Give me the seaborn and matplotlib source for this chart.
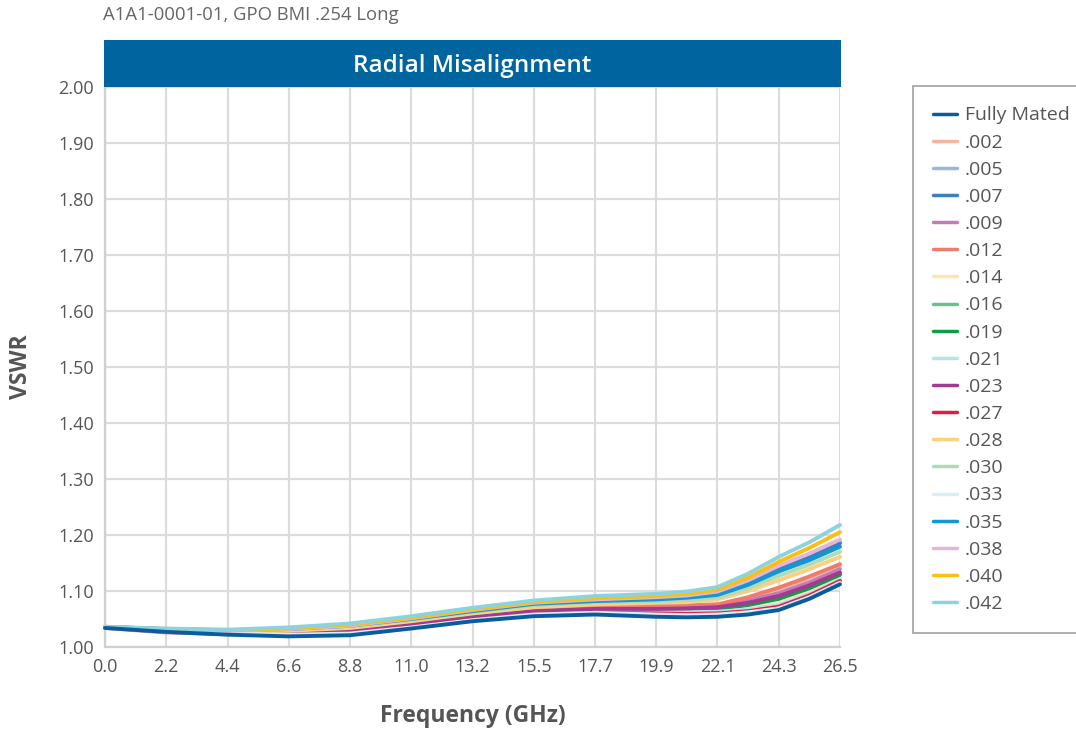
import numpy as np
import pandas as pd
import matplotlib
matplotlib.use("Agg")
import matplotlib.pyplot as plt
from matplotlib.patches import Rectangle
import seaborn as sns

# ---- data ----
tick_freq = [0.0, 2.2083, 4.4167, 6.625, 8.8333, 11.0417, 13.25, 15.4583, 17.6667, 19.875, 22.0833, 24.2917, 26.5]
freq_tick_labels = ["0.0", "2.2", "4.4", "6.6", "8.8", "11.0", "13.2", "15.5", "17.7", "19.9", "22.1", "24.3", "26.5"]
# sample frequencies (ticks plus a few readings between ticks near the upturn)
freq = [0.0, 2.2083, 4.4167, 6.625, 8.8333, 11.0417, 13.25, 15.4583, 17.6667, 19.875,
        20.979, 22.0833, 23.1875, 24.2917, 25.396, 26.5]

series_names = ["Fully Mated", ".002", ".005", ".007", ".009", ".012", ".014", ".016", ".019",
                ".021", ".023", ".027", ".028", ".030", ".033", ".035", ".038", ".040", ".042"]

fully_mated = [1.034, 1.027, 1.022, 1.019, 1.021, 1.033, 1.046, 1.055, 1.058, 1.054, 1.053, 1.054, 1.058, 1.066, 1.086, 1.112]
s002 = [1.035, 1.029, 1.026, 1.026, 1.030, 1.042, 1.056, 1.067, 1.071, 1.073, 1.074, 1.076, 1.087, 1.102, 1.121, 1.144]
s005 = [1.035, 1.031, 1.029, 1.031, 1.037, 1.050, 1.065, 1.078, 1.084, 1.087, 1.090, 1.097, 1.117, 1.142, 1.163, 1.188]
s007 = [1.035, 1.031, 1.029, 1.031, 1.037, 1.050, 1.064, 1.077, 1.083, 1.086, 1.089, 1.095, 1.115, 1.140, 1.160, 1.185]
s009 = [1.034, 1.026, 1.023, 1.023, 1.027, 1.040, 1.054, 1.065, 1.070, 1.071, 1.072, 1.074, 1.083, 1.096, 1.115, 1.139]
s012 = [1.035, 1.029, 1.026, 1.026, 1.030, 1.042, 1.056, 1.067, 1.072, 1.075, 1.075, 1.076, 1.089, 1.106, 1.126, 1.148]
s014 = [1.035, 1.030, 1.026, 1.025, 1.028, 1.039, 1.052, 1.062, 1.065, 1.064, 1.064, 1.065, 1.070, 1.078, 1.098, 1.123]
s016 = [1.036, 1.031, 1.028, 1.028, 1.031, 1.042, 1.054, 1.064, 1.067, 1.068, 1.068, 1.070, 1.077, 1.087, 1.106, 1.130]
s019 = [1.036, 1.031, 1.028, 1.027, 1.029, 1.040, 1.053, 1.063, 1.066, 1.068, 1.067, 1.068, 1.075, 1.086, 1.105, 1.129]
s021 = [1.036, 1.030, 1.026, 1.024, 1.027, 1.038, 1.050, 1.060, 1.063, 1.062, 1.062, 1.063, 1.067, 1.075, 1.095, 1.120]
s023 = [1.035, 1.030, 1.026, 1.025, 1.028, 1.040, 1.053, 1.064, 1.068, 1.068, 1.069, 1.071, 1.079, 1.091, 1.110, 1.133]
s027 = [1.035, 1.029, 1.025, 1.022, 1.024, 1.035, 1.048, 1.058, 1.061, 1.060, 1.059, 1.060, 1.064, 1.072, 1.092, 1.118]
s028 = [1.036, 1.031, 1.028, 1.029, 1.034, 1.046, 1.060, 1.071, 1.076, 1.079, 1.080, 1.085, 1.100, 1.119, 1.139, 1.161]
s030 = [1.036, 1.032, 1.030, 1.032, 1.037, 1.049, 1.063, 1.075, 1.080, 1.082, 1.084, 1.088, 1.105, 1.127, 1.147, 1.170]
s033 = [1.035, 1.028, 1.024, 1.022, 1.024, 1.035, 1.048, 1.058, 1.061, 1.058, 1.057, 1.058, 1.062, 1.069, 1.089, 1.115]
s035 = [1.036, 1.032, 1.030, 1.032, 1.038, 1.050, 1.064, 1.077, 1.082, 1.085, 1.088, 1.093, 1.111, 1.135, 1.155, 1.179]
s038 = [1.035, 1.031, 1.029, 1.032, 1.038, 1.051, 1.066, 1.079, 1.085, 1.089, 1.092, 1.099, 1.119, 1.145, 1.167, 1.192]
s040 = [1.036, 1.032, 1.030, 1.033, 1.040, 1.052, 1.067, 1.080, 1.087, 1.091, 1.095, 1.102, 1.124, 1.152, 1.177, 1.205]
s042 = [1.036, 1.033, 1.031, 1.035, 1.042, 1.055, 1.070, 1.083, 1.091, 1.095, 1.099, 1.107, 1.131, 1.161, 1.187, 1.218]

series_values = [fully_mated, s002, s005, s007, s009, s012, s014, s016, s019,
                 s021, s023, s027, s028, s030, s033, s035, s038, s040, s042]

colors = ["#0b5c9e", "#f7b4a2", "#9cb6d8", "#3d7fc0", "#c47cb6", "#ef7b6e", "#fde5b2", "#6dc08c",
          "#0f9d4b", "#b6e3ea", "#a23b8f", "#e31c42", "#fdd07f", "#afdcb8", "#d9eef2", "#1296d6",
          "#e3b6d7", "#fbbf12", "#8dd3de"]

y_ticks = [1.00, 1.10, 1.20, 1.30, 1.40, 1.50, 1.60, 1.70, 1.80, 1.90, 2.00]

rows = []
for name, vals in zip(series_names, series_values):
    for f, v in zip(freq, vals):
        rows.append({"Frequency": f, "VSWR": v, "Series": name})
df = pd.DataFrame(rows)

# ---- figure ----
sns.set_theme(style="white")
plt.rcParams["font.family"] = ["Open Sans", "DejaVu Sans"]

W, H = 1076, 732
fig = plt.figure(figsize=(W / 100, H / 100), dpi=100)
ax = fig.add_axes([105 / W, (H - 647) / H, (840 - 105) / W, (647 - 87) / H])

sns.lineplot(data=df, x="Frequency", y="VSWR", hue="Series", hue_order=series_names,
             palette=dict(zip(series_names, colors)), linewidth=2.8, ax=ax,
             legend=True, estimator=None, sort=True)
lines = ax.get_lines()
for i, ln in enumerate(lines):
    ln.set_solid_capstyle("round")
    ln.set_solid_joinstyle("round")
    ln.set_clip_on(False)
lines[0].set_zorder(5)  # Fully Mated on top

ax.set_xlim(0, 26.5)
ax.set_ylim(1.0, 2.0)
ax.set_xticks(tick_freq)
ax.set_xticklabels(freq_tick_labels)
ax.set_yticks(y_ticks)
ax.set_yticklabels([f"{t:.2f}" for t in y_ticks])
ax.grid(True, color="#dcdcdc", linewidth=1.6)
ax.set_axisbelow(True)
for s in ["top", "right"]:
    ax.spines[s].set_visible(False)
for s in ["left", "bottom"]:
    ax.spines[s].set_color("#d0d0d0")
    ax.spines[s].set_linewidth(1.6)
ax.tick_params(axis="both", colors="#555555", labelsize=13, length=0)
ax.tick_params(axis="x", pad=8)
ax.tick_params(axis="y", pad=8)
ax.set_xlabel("Frequency (GHz)", fontsize=16.5, fontweight="bold", color="#555555", labelpad=20)
ax.set_ylabel("VSWR", fontsize=16.5, fontweight="bold", color="#555555", labelpad=18)

# title bar
fig.patches.append(Rectangle((104 / W, (H - 87) / H), (841 - 104) / W, 47 / H,
                             transform=fig.transFigure, facecolor="#00649f", edgecolor="none"))
fig.text(472 / W, (H - 66) / H, "Radial Misalignment", color="white", fontsize=17.5,
         fontweight="semibold", ha="center", va="center")
fig.text(103 / W, (H - 15) / H, "A1A1-0001-01, GPO BMI .254 Long", color="#666666",
         fontsize=13.3, ha="left", va="center")

sns.move_legend(ax, "upper left", bbox_to_anchor=(913 / W, (H - 86) / H),
                bbox_transform=fig.transFigure, title=None, frameon=True, fontsize=14,
                handlelength=1.2, labelspacing=0.47, borderpad=1.05, handletextpad=0.4,
                borderaxespad=0)
leg = ax.get_legend()
leg.get_frame().set_edgecolor("#888888")
leg.get_frame().set_linewidth(1.2)
leg.get_frame().set_boxstyle("square", pad=0)
for t in leg.get_texts():
    t.set_color("#555555")
for l in leg.get_lines():
    l.set_linewidth(2.5)

fig.savefig("out.png", dpi=100)
